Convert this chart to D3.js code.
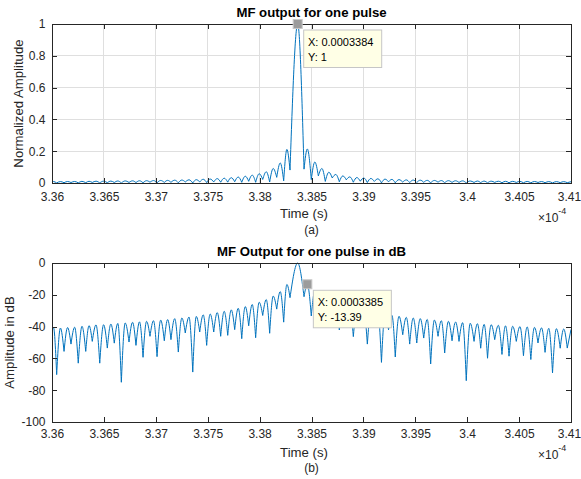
<!DOCTYPE html>
<html>
<head>
<meta charset="utf-8">
<script src="https://cdn.jsdelivr.net/npm/d3@7"></script>
<style>
  body { margin: 0; background: #fff; }
  svg { display: block; font-family: "Liberation Sans", Arial, Helvetica, sans-serif; }
</style>
</head>
<body>
<svg id="fig" width="581" height="479"></svg>
<script>
// Time axis in units of 1e-4 s
const xTickLabels = ["3.36", "3.365", "3.37", "3.375", "3.38", "3.385", "3.39", "3.395", "3.4", "3.405", "3.41"];
const linTickLabels = ["0", "0.2", "0.4", "0.6", "0.8", "1"];
const dbTickLabels = ["-100", "-80", "-60", "-40", "-20", "0"];

// Matched-filter output, described lobe by lobe (levels in dB re peak)
const startTime = 3.36, startLevel = -41.5;

// lobe nulls
const nullTimes = [
  3.36045, 3.36116, 3.36183, 3.36253, 3.36325, 3.36388, 3.36460, 3.36533, 3.36600, 3.36668,
  3.36742, 3.36809, 3.36877, 3.36944, 3.37012, 3.37082, 3.37146, 3.37217, 3.37284, 3.37356,
  3.37423, 3.37490, 3.37558, 3.37625, 3.37693, 3.37760, 3.37828, 3.37895, 3.37962, 3.38030,
  3.38097, 3.38165, 3.38232, 3.38293, 3.38428, 3.38498, 3.38566, 3.38633, 3.38700, 3.38768,
  3.38835, 3.38903, 3.38970, 3.39038, 3.39105, 3.39174, 3.39242, 3.39307, 3.39379, 3.39446,
  3.39514, 3.39581, 3.39648, 3.39719, 3.39783, 3.39854, 3.39921, 3.39991, 3.40066, 3.40130,
  3.40196, 3.40265, 3.40335, 3.40403, 3.40473, 3.40542, 3.40613, 3.40682, 3.40750, 3.40822,
  3.40896, 3.40964
];
const nullLevels = [
  -70.2, -55.6, -51.0, -63.0, -55.6, -49.3, -63.0, -53.5, -50.4, -75.0,
  -49.7, -51.8, -59.3, -46.1, -58.9, -48.9, -48.2, -56.0, -44.0, -68.6,
  -43.4, -51.8, -43.4, -46.1, -45.5, -41.9, -47.6, -39.5, -47.0, -33.0,
  -44.2, -29.0, -37.2, -21.8, -21.2, -33.3, -27.0, -40.0, -30.0, -42.1,
  -34.0, -46.3, -39.0, -51.0, -40.0, -62.5, -42.0, -59.1, -45.1, -51.0,
  -50.3, -47.2, -63.5, -46.1, -56.6, -48.9, -49.3, -74.0, -49.3, -53.6,
  -59.9, -48.2, -57.5, -58.6, -49.3, -58.3, -60.7, -50.3, -56.2, -69.1,
  -53.6, -53.5
];

// lobe crests: crest k lies between null k-1 and null k; the last one is the trace end
const crestTimes = [
  3.36015, 3.36081, 3.36150, 3.36218, 3.36289, 3.36357, 3.36424, 3.36497, 3.36567, 3.36634,
  3.36705, 3.36776, 3.36843, 3.36911, 3.36978, 3.37047, 3.37114, 3.37182, 3.37251, 3.37320,
  3.37390, 3.37457, 3.37524, 3.37592, 3.37659, 3.37727, 3.37794, 3.37862, 3.37929, 3.37996,
  3.38064, 3.38131, 3.38199, 3.38263, 3.38367, 3.38460, 3.38532, 3.38600, 3.38667, 3.38734,
  3.38802, 3.38869, 3.38937, 3.39004, 3.39072, 3.39140, 3.39208, 3.39275, 3.39343, 3.39413,
  3.39480, 3.39548, 3.39615, 3.39684, 3.39751, 3.39819, 3.39888, 3.39956, 3.40029, 3.40098,
  3.40163, 3.40231, 3.40300, 3.40369, 3.40438, 3.40508, 3.40578, 3.40648, 3.40716, 3.40786,
  3.40859, 3.40930, 3.41000
];
const crestLevels = [
  -40.8, -40.9, -40.6, -40.4, -39.8, -39.4, -38.9, -38.8, -38.4, -38.0,
  -37.7, -37.3, -37.0, -36.7, -36.3, -35.9, -35.6, -35.0, -34.6, -34.0,
  -33.6, -32.6, -32.1, -31.2, -30.4, -29.5, -28.5, -27.4, -26.1, -24.7,
  -23.0, -20.8, -18.0, -13.5, 0, -13.39, -17.6, -20.8, -23.4, -25.4,
  -27.0, -28.3, -29.3, -30.1, -30.9, -31.6, -32.3, -32.9, -33.5, -34.2,
  -34.6, -35.0, -35.5, -35.9, -36.3, -36.7, -37.1, -37.5, -37.9, -38.2,
  -38.6, -38.8, -39.2, -39.5, -39.8, -40.0, -40.2, -40.5, -40.8, -41.1,
  -41.3, -41.5, -41.8
];

// crests marked with data tips: main peak (linear panel), first right sidelobe (dB panel)
const tipCrests = [34, 35];

const svg = d3.select("#fig");
const INK = "#262626";
const x = d3.scaleLinear().domain([3.36, 3.41]).range([52, 571]);
const xTicks = xTickLabels.map(Number);

const toLinear = db => Math.pow(10, db / 20);
const toDb = db => db;

// one short curve per lobe, null -> crest -> null
function lobeSegments(val) {
  const segs = [];
  segs.push([[startTime, val(startLevel)], [crestTimes[0], val(crestLevels[0])], [nullTimes[0], val(nullLevels[0])]]);
  for (let k = 1; k < nullTimes.length; k++) {
    segs.push([[nullTimes[k - 1], val(nullLevels[k - 1])], [crestTimes[k], val(crestLevels[k])], [nullTimes[k], val(nullLevels[k])]]);
  }
  const last = nullTimes.length - 1;
  segs.push([[nullTimes[last], val(nullLevels[last])], [crestTimes[last + 1], val(crestLevels[last + 1])]]);
  return segs;
}

function panel(opt) {
  const { top, bottom, yDomain, yTickLabels, grid, val, title, ylabel, ylabelX, sub,
          titleY, tickPad, xlabelY, subY, expY, tipIndex, tipText } = opt;
  const y = d3.scaleLinear().domain(yDomain).range([bottom, top]);
  const yTicks = yTickLabels.map(Number);
  const g = svg.append("g");

  if (grid) {
    g.append("g").selectAll("line.v").data(xTicks).join("line")
      .attr("x1", d => x(d)).attr("x2", d => x(d)).attr("y1", top).attr("y2", bottom)
      .attr("stroke", "#dfdfdf").attr("shape-rendering", "crispEdges");
    g.append("g").selectAll("line.h").data(yTicks).join("line")
      .attr("x1", x.range()[0]).attr("x2", x.range()[1]).attr("y1", d => y(d)).attr("y2", d => y(d))
      .attr("stroke", "#dfdfdf").attr("shape-rendering", "crispEdges");
  }

  // trace
  const line = d3.line().x(d => x(d[0])).y(d => y(d[1])).curve(d3.curveMonotoneX);
  g.append("path")
    .attr("d", lobeSegments(val).map(s => line(s)).join(""))
    .attr("fill", "none").attr("stroke", "#0072bd").attr("stroke-width", 1)
    .attr("stroke-linejoin", "round");

  // axes with inward ticks on all four sides
  const styleAxis = sel => {
    sel.select(".domain").remove();
    sel.selectAll(".tick line").attr("stroke", INK).attr("shape-rendering", "crispEdges");
    sel.selectAll(".tick text").attr("fill", INK).style("font-size", "12px")
      .style("font-family", "\"Liberation Sans\", Arial, sans-serif");
  };
  const bottomAxis = g.append("g").attr("transform", `translate(0,${bottom})`)
    .call(d3.axisBottom(x).tickValues(xTicks).tickFormat((d, i) => xTickLabels[i])
      .tickSizeInner(-5).tickSizeOuter(0).tickPadding(tickPad))
    .call(styleAxis);
  // keep the last label inside the figure edge
  bottomAxis.selectAll(".tick text").filter((d, i, n) => i === n.length - 1).attr("dx", -2);
  g.append("g").attr("transform", `translate(0,${top})`)
    .call(d3.axisTop(x).tickValues(xTicks).tickFormat("").tickSizeInner(-5).tickSizeOuter(0))
    .call(styleAxis);
  g.append("g").attr("transform", `translate(${x.range()[0]},0)`)
    .call(d3.axisLeft(y).tickValues(yTicks).tickFormat((d, i) => yTickLabels[i])
      .tickSizeInner(-5).tickSizeOuter(0).tickPadding(6.5))
    .call(styleAxis);
  g.append("g").attr("transform", `translate(${x.range()[1]},0)`)
    .call(d3.axisRight(y).tickValues(yTicks).tickFormat("").tickSizeInner(-5).tickSizeOuter(0))
    .call(styleAxis);

  g.append("rect")
    .attr("x", x.range()[0]).attr("y", top)
    .attr("width", x.range()[1] - x.range()[0]).attr("height", bottom - top)
    .attr("fill", "none").attr("stroke", INK).attr("shape-rendering", "crispEdges");

  // texts
  const cx = (x.range()[0] + x.range()[1]) / 2;
  g.append("text").attr("x", cx).attr("y", titleY).attr("text-anchor", "middle")
    .style("font-size", "13.2px").style("font-weight", "bold").attr("fill", "#000").text(title);
  g.append("text").attr("x", cx - 7.5).attr("y", xlabelY).attr("text-anchor", "middle")
    .style("font-size", "13.2px").attr("fill", INK).text("Time (s)");
  g.append("text").attr("x", cx).attr("y", subY).attr("text-anchor", "middle")
    .style("font-size", "12px").attr("fill", INK).text(sub);
  g.append("text")
    .attr("transform", `translate(${ylabelX},${(top + bottom) / 2}) rotate(-90)`)
    .attr("text-anchor", "middle").style("font-size", "13.2px").attr("fill", INK).text(ylabel);
  const ex = g.append("text").attr("x", 538).attr("y", expY).style("font-size", "12px").attr("fill", INK);
  ex.append("tspan").text("\u00d710");
  ex.append("tspan").attr("dy", -8).style("font-size", "9px").text("-4");

  // data tip
  const tt = crestTimes[tipIndex];
  const tv = val(crestLevels[tipIndex]);
  const mx = x(tt), my = y(tv);
  const bx = mx + 6, by = my + 6;
  g.append("rect").attr("x", bx).attr("y", by).attr("width", 78).attr("height", 37.5)
    .attr("fill", "#ffffe6").attr("stroke", "#c6c6c6");
  g.append("rect").attr("x", mx - 4.5).attr("y", my - 4.5).attr("width", 9).attr("height", 9)
    .attr("fill", "#9c9c9c").attr("stroke", "#c8c8c8");
  const lines = tipText(tt, tv);
  lines.forEach((s, i) => {
    g.append("text").attr("x", bx + 4.3).attr("y", by + 15.8 + i * 15.2)
      .style("font-size", "11px").attr("fill", "#000").text(s);
  });
}

const tipX = t => "X: " + (t * 1e-4).toPrecision(4);

panel({
  top: 24, bottom: 183, yDomain: [0, 1], yTickLabels: linTickLabels, grid: true, val: toLinear,
  title: "MF output for one pulse", ylabel: "Normalized Amplitude", ylabelX: 22.5, sub: "(a)",
  titleY: 16.5, tickPad: 9.3, xlabelY: 218, subY: 234, expY: 221.5,
  tipIndex: tipCrests[0], tipText: (t, v) => [tipX(t), "Y: " + (+v.toPrecision(4))]
});

panel({
  top: 263, bottom: 422, yDomain: [-100, 0], yTickLabels: dbTickLabels, grid: false, val: toDb,
  title: "MF Output for one pulse in dB", ylabel: "Amplitude in dB", ylabelX: 14, sub: "(b)",
  titleY: 256, tickPad: 7.8, xlabelY: 456.5, subY: 472, expY: 458.5,
  tipIndex: tipCrests[1], tipText: (t, v) => [tipX(t), "Y: " + v.toFixed(2)]
});
</script>
</body>
</html>
